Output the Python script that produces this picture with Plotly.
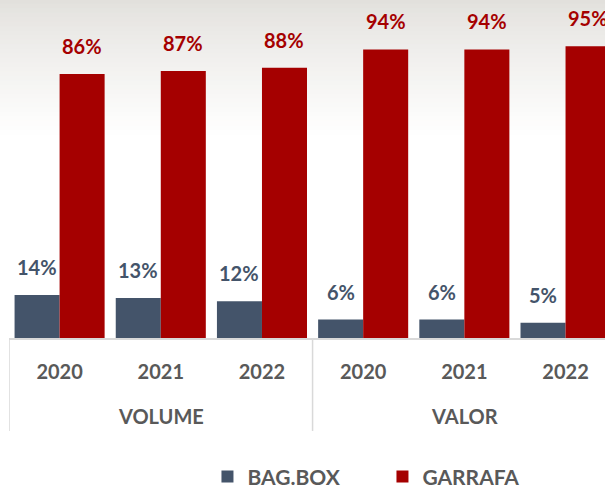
import plotly.graph_objects as go

# data
groups = ["VOLUME", "VALOR"]
years = ["2020", "2021", "2022"]
bag_box = [14, 13, 12, 6, 6, 5]
garrafa = [86, 87, 88, 94, 94, 95]

BLUE = "#44546A"
RED = "#A50000"
GRAY = "#595959"
FONT = "Lato"

xs = list(range(len(bag_box)))
bargap = 0.11
half = (1 - bargap) / 4  # offset of each bar center from the category center

fig = go.Figure()
fig.add_trace(go.Bar(x=xs, y=bag_box, name="BAG.BOX", marker=dict(color=BLUE, line_width=0)))
fig.add_trace(go.Bar(x=xs, y=garrafa, name="GARRAFA", marker=dict(color=RED, line_width=0)))

# value labels above bars
annotations = []
for i, (b, g) in enumerate(zip(bag_box, garrafa)):
    annotations.append(dict(x=i - half, y=b, text=f"{b}%", showarrow=False, yanchor="bottom",
                            yshift=14, font=dict(family=FONT, size=20, color=BLUE, weight="bold")))
    annotations.append(dict(x=i + half, y=g, text=f"{g}%", showarrow=False, yanchor="bottom",
                            yshift=14, font=dict(family=FONT, size=20, color=RED, weight="bold")))

# group labels
for k, grp in enumerate(groups):
    annotations.append(dict(x=k * len(years) + (len(years) - 1) / 2, xref="x", y=-0.232, yref="paper",
                            text=grp, showarrow=False, yanchor="middle",
                            font=dict(family=FONT, size=20, color=GRAY, weight="bold")))

# background gradient (grey at top fading to white)
shapes = []
n = 30
top_px, bot_px, plot_h = 0, 135, 338
for j in range(n):
    t = j / n
    c0 = (226, 224, 220)
    c = [round(c0[k] + (255 - c0[k]) * (t ** 0.8)) for k in range(3)]
    y1 = 1 - (top_px + (bot_px - top_px) * j / n) / plot_h
    y0 = 1 - (top_px + (bot_px - top_px) * (j + 1) / n) / plot_h
    shapes.append(dict(type="rect", xref="paper", yref="paper", x0=-0.05, x1=1.05, y0=y0, y1=y1 + 0.002,
                       fillcolor=f"rgb({c[0]},{c[1]},{c[2]})", line_width=0, layer="below"))

# axis divider lines
for xv in [-0.5, len(years) - 0.5]:
    shapes.append(dict(type="line", xref="x", yref="paper", x0=xv, x1=xv, y0=0, y1=-0.275,
                       line=dict(color="#d9d9d9", width=1.5)))

fig.update_layout(
    width=605, height=485,
    margin=dict(l=9, r=0, t=0, b=147, autoexpand=False),
    paper_bgcolor="white", plot_bgcolor="rgba(0,0,0,0)",
    barmode="group", bargap=bargap, bargroupgap=0,
    font=dict(family=FONT, color=GRAY),
    annotations=annotations, shapes=shapes,
    showlegend=True,
    legend=dict(orientation="h", x=0.333, xanchor="left", y=-0.35, yanchor="top",
                entrywidth=130, entrywidthmode="pixels",
                font=dict(family=FONT, size=21, color=GRAY, weight="bold"),
                bgcolor="rgba(0,0,0,0)"),
)
fig.update_xaxes(range=[-0.5, 5.39], tickvals=xs, ticktext=years * len(groups),
                 showline=True, linecolor="#d9d9d9", linewidth=1.5, showgrid=False, zeroline=False,
                 ticks="outside", ticklen=15, tickcolor="rgba(0,0,0,0)",
                 tickfont=dict(family=FONT, size=20, color=GRAY, weight="bold"))
fig.update_yaxes(range=[0, 110.1], visible=False, showgrid=False)

fig.write_html("out.html", config={"displayModeBar": False},
               post_script="document.body.style.margin='0';document.body.style.overflow='hidden';")
